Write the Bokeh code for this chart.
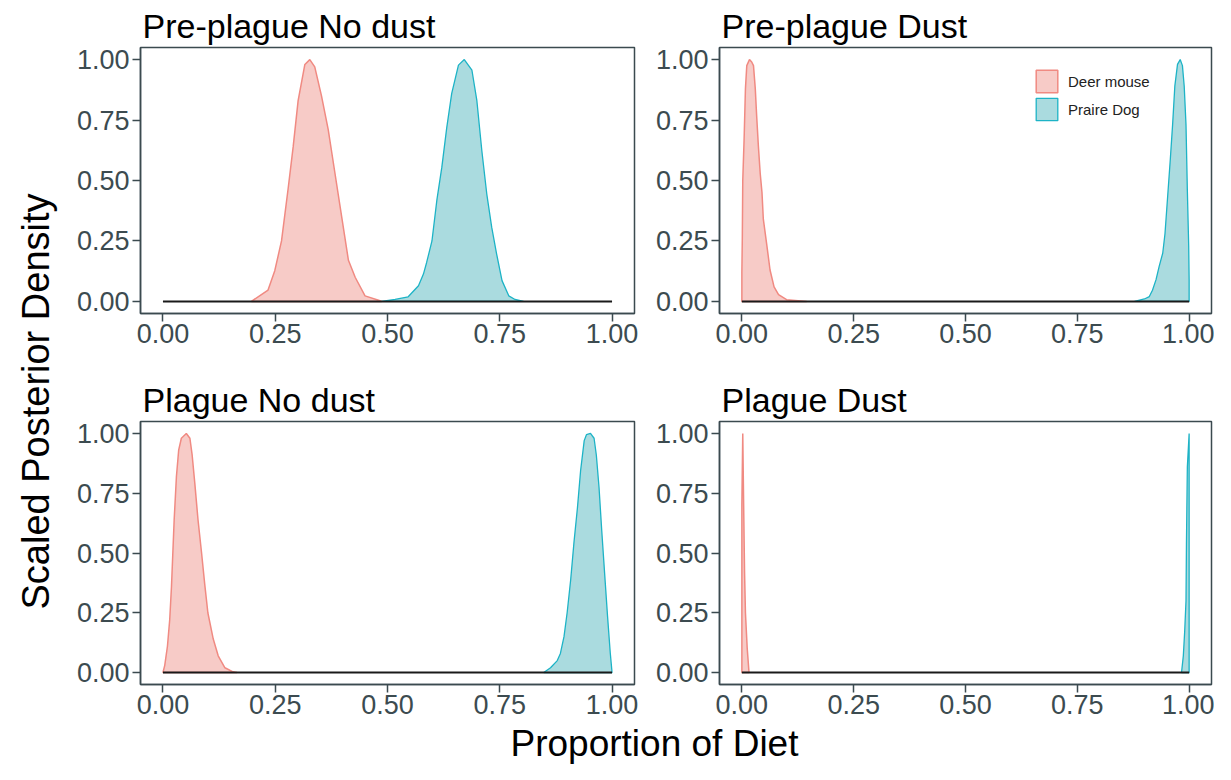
import numpy as np
from bokeh.plotting import figure
from bokeh.models import Legend, LegendItem, FixedTicker, Range1d, Title
from bokeh.layouts import row, column
from bokeh.embed import file_html
from bokeh.resources import INLINE
from bokeh.core.properties import value

FONT = "Liberation Sans"

# ---------------- data ----------------
tick_values = [0, 0.25, 0.5, 0.75, 1]
tick_labels = ["0.00", "0.25", "0.50", "0.75", "1.00"]
panel_titles = ["Pre-plague No dust", "Pre-plague Dust", "Plague No dust", "Plague Dust"]
species = ["Deer mouse", "Praire Dog"]

# Pre-plague No dust
pre_nodust_mouse_x = [0.197, 0.234, 0.249, 0.264, 0.279, 0.290, 0.301, 0.316, 0.327, 0.338, 0.353,
                      0.368, 0.383, 0.398, 0.413, 0.428, 0.450, 0.480, 0.487]
pre_nodust_mouse_y = [0.0, 0.047, 0.127, 0.25, 0.47, 0.64, 0.83, 0.98, 1.0, 0.97, 0.85,
                      0.71, 0.53, 0.35, 0.17, 0.10, 0.023, 0.005, 0.0]
pre_nodust_dog_x = [0.487, 0.517, 0.546, 0.569, 0.580, 0.587, 0.599, 0.610, 0.621, 0.632, 0.643,
                    0.658, 0.671, 0.688, 0.699, 0.710, 0.721, 0.732, 0.743, 0.755, 0.770, 0.784, 0.803]
pre_nodust_dog_y = [0.0, 0.008, 0.019, 0.065, 0.113, 0.16, 0.25, 0.42, 0.555, 0.72, 0.86,
                    0.977, 1.0, 0.956, 0.83, 0.624, 0.445, 0.307, 0.196, 0.086, 0.023, 0.008, 0.0]

# Pre-plague Dust
pre_dust_mouse_x = [0.0, 0.0, 0.001, 0.002, 0.005, 0.008, 0.011, 0.017, 0.022, 0.026, 0.030,
                    0.033, 0.037, 0.041, 0.045, 0.048, 0.056, 0.063, 0.072, 0.082, 0.100, 0.145]
pre_dust_mouse_y = [0.0, 0.12, 0.26, 0.50, 0.67, 0.88, 0.975, 1.0, 0.99, 0.975, 0.88,
                    0.77, 0.64, 0.53, 0.45, 0.34, 0.23, 0.13, 0.06, 0.028, 0.007, 0.0]
pre_dust_dog_x = [0.878, 0.900, 0.911, 0.918, 0.926, 0.933, 0.941, 0.946, 0.952, 0.958, 0.963,
                  0.968, 0.974, 0.980, 0.985, 0.989, 0.993, 0.996, 0.999, 1.0, 1.0]
pre_dust_dog_y = [0.0, 0.01, 0.02, 0.046, 0.09, 0.145, 0.20, 0.28, 0.435, 0.59, 0.73,
                  0.89, 0.98, 1.0, 0.975, 0.89, 0.73, 0.46, 0.23, 0.09, 0.0]

# Plague No dust
plague_nodust_mouse_x = [0.0, 0.004, 0.010, 0.015, 0.019, 0.025, 0.030, 0.035, 0.041, 0.052, 0.060,
                         0.065, 0.071, 0.078, 0.086, 0.093, 0.100, 0.112, 0.123, 0.138, 0.156, 0.165]
plague_nodust_mouse_y = [0.0, 0.03, 0.11, 0.22, 0.36, 0.64, 0.82, 0.93, 0.98, 1.0, 0.98,
                         0.91, 0.79, 0.64, 0.50, 0.37, 0.25, 0.14, 0.07, 0.02, 0.003, 0.0]
plague_nodust_dog_x = [0.848, 0.863, 0.878, 0.885, 0.893, 0.900, 0.908, 0.915, 0.923, 0.930, 0.938,
                       0.943, 0.952, 0.960, 0.965, 0.971, 0.977, 0.984, 0.990, 0.996, 1.0]
plague_nodust_dog_y = [0.0, 0.02, 0.05, 0.08, 0.15, 0.25, 0.39, 0.54, 0.69, 0.845, 0.97,
                       0.995, 1.0, 0.98, 0.91, 0.775, 0.595, 0.40, 0.235, 0.083, 0.0]

# Plague Dust
plague_dust_mouse_x = [0.0, 0.0, 0.002, 0.004, 0.006, 0.008, 0.012, 0.016]
plague_dust_mouse_y = [0.0, 0.70, 1.0, 0.70, 0.42, 0.25, 0.10, 0.0]
plague_dust_dog_x = [0.983, 0.987, 0.990, 0.993, 0.994, 0.996, 1.0, 1.0]
plague_dust_dog_y = [0.0, 0.07, 0.17, 0.30, 0.54, 0.86, 1.0, 0.0]

# ---------------- style ----------------
PINK_FILL = "#F7CBC7"
PINK_LINE = "#F08A82"
TEAL_FILL = "#AADBDF"
TEAL_LINE = "#1DB3C6"
AX = "#3b4a4f"
TICK = "#3c4b50"


def make_panel(title, mx, my, dx, dy, w, h, left, right, top, bottom, legend_loc=None):
    p = figure(width=w, height=h, x_range=Range1d(-0.05, 1.05), y_range=Range1d(-0.05, 1.05),
               output_backend="svg", toolbar_location=None,
               min_border_left=left, min_border_right=right,
               min_border_top=top, min_border_bottom=bottom)
    p.grid.visible = False
    p.outline_line_color = AX
    p.outline_line_width = 1.5
    p.outline_line_alpha = 1.0
    p.background_fill_color = "white"
    p.border_fill_color = "white"
    for ax in (p.xaxis[0], p.yaxis[0]):
        ax.ticker = FixedTicker(ticks=tick_values)
        ax.major_label_overrides = dict(zip(tick_values, tick_labels))
        ax.axis_line_color = AX
        ax.axis_line_width = 1.5
        ax.major_tick_line_color = AX
        ax.major_tick_line_width = 1.5
        ax.major_tick_out = 8
        ax.major_tick_in = 0
        ax.minor_tick_line_color = None
        ax.major_label_text_font = FONT
        ax.major_label_text_font_size = "27px"
        ax.major_label_text_color = TICK
    p.xaxis[0].major_label_standoff = 2
    p.yaxis[0].major_label_standoff = 3

    r1 = p.patch(x=mx, y=my, fill_color=PINK_FILL, line_color=PINK_LINE, line_width=1.5)
    r2 = p.patch(x=dx, y=dy, fill_color=TEAL_FILL, line_color=TEAL_LINE, line_width=1.3)
    p.line(x=[tick_values[0], tick_values[-1]], y=[0, 0], line_color="#1a1a1a", line_width=2)

    t = Title(text=title, align="left", offset=2, standoff=5, text_font=FONT,
              text_font_size="34px", text_font_style="normal", text_color="black")
    p.add_layout(t, "above")

    if legend_loc is not None:
        lg = Legend(items=[LegendItem(label=species[0], renderers=[r1]),
                           LegendItem(label=species[1], renderers=[r2])],
                    location=legend_loc, glyph_width=27, glyph_height=28, spacing=0,
                    padding=5, margin=0, label_standoff=8, label_text_font=FONT,
                    label_text_font_size="15px", label_text_color="#222222",
                    border_line_alpha=0, background_fill_color="white",
                    background_fill_alpha=1.0)
        p.add_layout(lg)
    return p


tl = make_panel(panel_titles[0], pre_nodust_mouse_x, pre_nodust_mouse_y,
                pre_nodust_dog_x, pre_nodust_dog_y, 579, 376, 72, 13, 47, 63)
tr = make_panel(panel_titles[1], pre_dust_mouse_x, pre_dust_mouse_y,
                pre_dust_dog_x, pre_dust_dog_y, 567, 376, 72, 3, 47, 63,
                legend_loc=(309, 185))
bl = make_panel(panel_titles[2], plague_nodust_mouse_x, plague_nodust_mouse_y,
                plague_nodust_dog_x, plague_nodust_dog_y, 579, 348, 72, 13, 45, 40)
br = make_panel(panel_titles[3], plague_dust_mouse_x, plague_dust_mouse_y,
                plague_dust_dog_x, plague_dust_dog_y, 567, 348, 72, 3, 45, 40)


def blank(w, h):
    f = figure(width=w, height=h, x_range=Range1d(0, w), y_range=Range1d(0, h),
               output_backend="svg", toolbar_location=None, title=None,
               x_axis_location=None, y_axis_location=None, min_border=0)
    f.grid.visible = False
    f.outline_line_color = None
    return f


ylab = blank(68, 764)
ylab.text(x=[35], y=[363], text=["Scaled Posterior Density"], angle=np.pi / 2,
          text_align="center", text_baseline="middle", text_font=value(FONT),
          text_font_size="38px", text_color="black")

xlab = blank(1146, 40)
xlab.text(x=[586], y=[21], text=["Proportion of Diet"], text_align="center",
          text_baseline="middle", text_font=value(FONT), text_font_size="37px",
          text_color="black")

layout = row(ylab, column(row(tl, tr), row(bl, br), xlab))

open("out.html", "w").write(file_html(layout, INLINE))
